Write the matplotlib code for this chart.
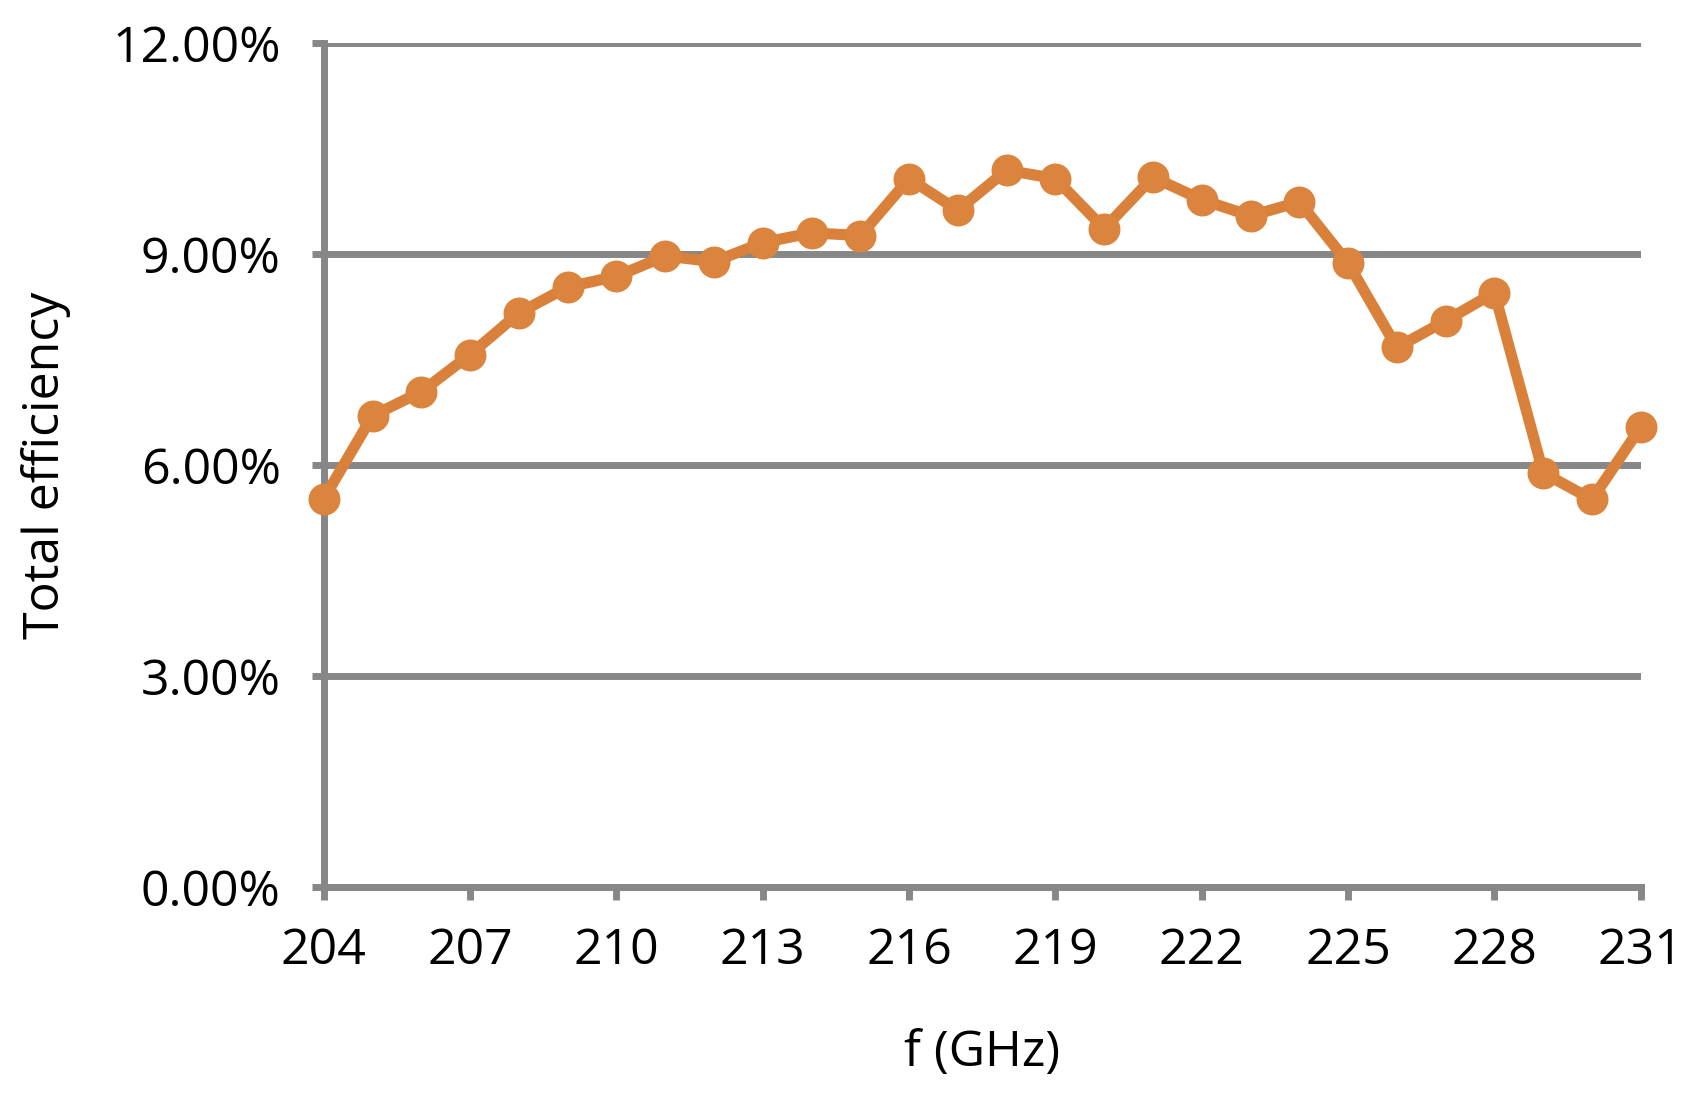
import matplotlib
matplotlib.use('Agg')
import matplotlib.pyplot as plt
import numpy as np
from matplotlib.ticker import PercentFormatter

freq = list(range(204, 232))
eff = [5.52, 6.70, 7.04, 7.57, 8.16, 8.53, 8.68, 8.97, 8.89, 9.16,
       9.30, 9.26, 10.07, 9.62, 10.19, 10.07, 9.36, 10.09, 9.77, 9.54,
       9.74, 8.87, 7.67, 8.05, 8.45, 5.89, 5.51, 6.54]
xticks = np.arange(204, 232, 3)
yticks = [0, 3, 6, 9, 12]

plt.rcParams['font.family'] = ['Open Sans', 'DejaVu Sans']

fig = plt.figure(figsize=(16.95, 10.98), dpi=100)
ax = fig.add_axes([0.191, 0.192, 0.777, 0.769])

grey = '#878787'
ax.plot(freq, eff, '-o', color='#D9813A', linewidth=8, markersize=23,
        markerfacecolor='#DB843D', markeredgewidth=0, zorder=4, clip_on=False)

ax.set_xlim(204, 231)
ax.set_ylim(0, 12)
ax.set_xticks(xticks)
ax.set_yticks(yticks)
ax.yaxis.set_major_formatter(PercentFormatter(decimals=2))
ax.grid(axis='y', color=grey, linewidth=5, zorder=0)

for s in ['top', 'right']:
    ax.spines[s].set_visible(False)
for s in ['left', 'bottom']:
    ax.spines[s].set_color(grey)
    ax.spines[s].set_linewidth(5)
    ax.spines[s].set_zorder(1)

ax.tick_params(axis='both', colors=grey, width=5, length=9, labelcolor='black',
               labelsize=36)
ax.tick_params(axis='x', pad=19)
ax.tick_params(axis='y', pad=22)

ax.set_xlabel('f (GHz)', fontsize=36, labelpad=38)
ax.set_ylabel('Total efficiency', fontsize=36, labelpad=30)

fig.savefig('out.png', dpi=100)
